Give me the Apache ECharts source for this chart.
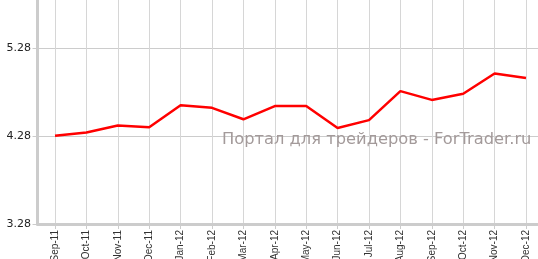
<!DOCTYPE html>
<html>
<head>
<meta charset="utf-8">
<script src="https://cdn.jsdelivr.net/npm/echarts@6/dist/echarts.min.js"></script>
<style>
html,body{margin:0;padding:0;background:#fff;}
#c{width:538px;height:259px;}
</style>
</head>
<body>
<div id="c"></div>
<script>
var categories = ['Sep-11','Oct-11','Nov-11','Dec-11','Jan-12','Feb-12','Mar-12','Apr-12','May-12','Jun-12','Jul-12','Aug-12','Sep-12','Oct-12','Nov-12','Dec-12'];
var values = [4.284, 4.32, 4.40, 4.38, 4.63, 4.60, 4.47, 4.62, 4.62, 4.37, 4.46, 4.79, 4.69, 4.76, 4.99, 4.94];
var yTicks = [3.28, 4.28, 5.28];
var watermark = 'Портал для трейдеров - ForTrader.ru';

var chart = echarts.init(document.getElementById('c'), null, {renderer: 'canvas'});
var yMin = yTicks[0], yMax = yTicks[yTicks.length - 1] + 1;
chart.setOption({
  animation: false,
  backgroundColor: '#fff',
  grid: [
    {left: 37.5, right: 0, top: -40, bottom: 35, outerBoundsMode: 'none', containLabel: false},
    {left: 55, right: 12, top: -40, bottom: 35, outerBoundsMode: 'none', containLabel: false}
  ],
  xAxis: [
    {
      gridIndex: 0, type: 'value', min: 0, max: 1,
      axisLine: {show: true, lineStyle: {color: '#cccccc', width: 3}},
      axisTick: {show: false}, axisLabel: {show: false}, splitLine: {show: false}
    },
    {
      gridIndex: 1, type: 'category', data: categories, boundaryGap: false,
      axisLine: {show: false},
      axisTick: {show: true, length: 5, alignWithLabel: true, lineStyle: {color: '#cccccc', width: 1}},
      axisLabel: {rotate: 90, margin: 6, interval: 0, color: '#333333', fontSize: 10, fontFamily: 'Liberation Sans, Arial, sans-serif'},
      splitLine: {show: true, interval: 0, lineStyle: {color: '#d6d6d6', width: 1}}
    }
  ],
  yAxis: [
    {
      gridIndex: 0, type: 'value', min: yMin, max: yMax, interval: 1,
      axisLine: {show: true, lineStyle: {color: '#cccccc', width: 3}},
      axisTick: {show: true, length: 5, lineStyle: {color: '#cccccc'}},
      axisLabel: {margin: 6.5, color: '#222222', fontSize: 11, fontFamily: 'DejaVu Sans, Verdana, sans-serif',
        formatter: function (v) { return v.toFixed(2); }},
      splitLine: {show: true, lineStyle: {color: '#cccccc', width: 1}}
    },
    {
      gridIndex: 1, type: 'value', min: yMin, max: yMax, interval: 1,
      show: false, splitLine: {show: false}
    }
  ],
  graphic: [{
    type: 'text', left: 222, top: 132, z: 5,
    style: {text: watermark, fill: '#a39a9a', font: '16.3px "DejaVu Sans", Verdana, sans-serif'}
  }],
  series: [{
    type: 'line', xAxisIndex: 1, yAxisIndex: 1, data: values,
    symbol: 'none', lineStyle: {color: '#ff0000', width: 2.5}, z: 10
  }]
});
</script>
</body>
</html>
